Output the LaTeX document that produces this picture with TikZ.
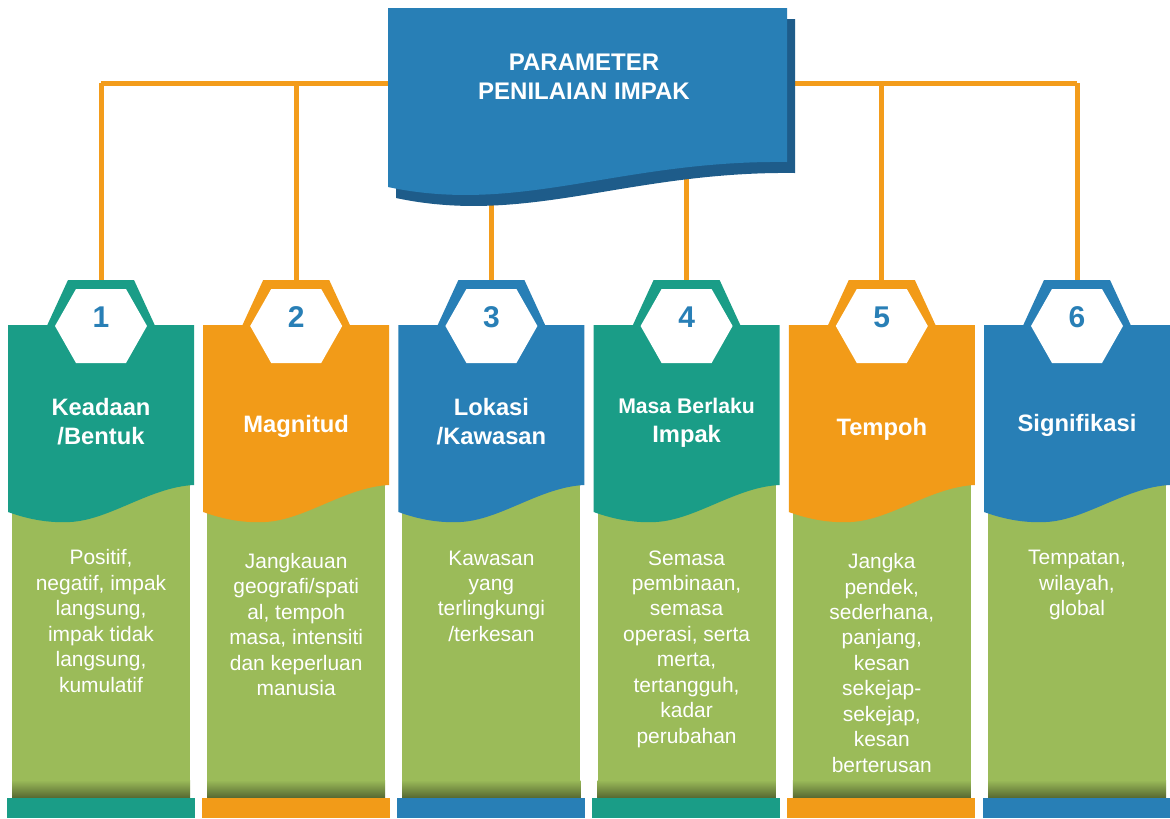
\documentclass[tikz,border=0pt]{standalone}
\usepackage{fontspec}
\setmainfont{Liberation Sans}
\definecolor{cteal}{HTML}{1A9D87}
\definecolor{corange}{HTML}{F29B18}
\definecolor{cblue}{HTML}{287FB6}
\definecolor{cgreen}{HTML}{9BBB59}
\definecolor{cshadow}{HTML}{1E5C8A}
\definecolor{cline}{HTML}{F39C1B}
\begin{document}
\begin{tikzpicture}[x=0.75pt,y=-0.75pt,
  wire/.style={cline, line width=3.75pt},
  ttl/.style={text=white, font=\fontsize{17.8}{21.75}\selectfont\bfseries, align=center, anchor=base, inner sep=0pt},
  smallttl/.style={text=white, font=\fontsize{15.9}{19}\selectfont\bfseries, anchor=base, inner sep=0pt},
  bodytxt/.style={text=white, font=\fontsize{15.7}{19.1}\selectfont, align=center, anchor=base, inner sep=0pt},
  num/.style={text=cblue, font=\fontsize{22.5}{27}\selectfont\bfseries, anchor=base, inner sep=0pt}]
\useasboundingbox (0,0) rectangle (1170,818);
\fill[white] (0,0) rectangle (1170,818);

% bus and drop connectors
\foreach \i in {1,...,6}{
  \pgfmathsetmacro\C{101+195.2*(\i-1)}
  \coordinate (bus\i) at (\C,83);
  \coordinate (top\i) at (\C,282);
}
\draw[wire] (bus1) -- (bus6);
\foreach \i in {1,...,6}{ \draw[wire] (bus\i) -- (top\i); }

% header
\fill[cshadow] (396,19) -- (795,19) -- (795,173) .. controls (628,171) and (528,226) .. (396,198) -- cycle;
\fill[cblue] (388,8) -- (787,8) -- (787,162) .. controls (620,160) and (520,215) .. (388,187) -- cycle;
\node[ttl, font=\fontsize{18}{21.75}\selectfont\bfseries] (hdrA) at (584,70) {PARAMETER};
\node[ttl, font=\fontsize{18}{21.75}\selectfont\bfseries] (hdrB) at (584,99) {PENILAIAN IMPAK};

% columns
\foreach \i/\col in {1/cteal,2/corange,3/cblue,4/cteal,5/corange,6/cblue}{
  \pgfmathsetmacro\L{8+195.2*(\i-1)}
  \pgfmathsetmacro\C{\L+93}
  % green body
  \fill[cgreen] (\L+4,470) rectangle (\L+182,798);
  \shade[top color=cgreen, bottom color=cgreen!55!black] (\L+4,780) rectangle (\L+182,798);
  % bottom bar
  \fill[\col] (\L-1.5,798) rectangle (\L+186.5,818);
  % hexagon frame
  \fill[\col] (\C-33,280) -- (\C+33,280) -- (\C+56,330) -- (\C-56,330) -- cycle;
  % top box with wavy bottom
  \fill[\col] (\L,325) -- (\L+186,325) -- (\L+186,485)
     .. controls (\L+142,487) and (\L+102,520) .. (\L+62,522)
     .. controls (\L+42,523) and (\L+22,520) .. (\L,512) -- cycle;
  % white hexagon
  \fill[white] (\C-25,289) -- (\C+25,289) -- (\C+46,326) -- (\C+25,363) -- (\C-25,363) -- (\C-46,326) -- cycle;
  \node[num] (num\i) at (\C,327) {\i};
}

% titles (multi-line nodes: base = last line's baseline)
\node[ttl] (t1) at (101,444) {Keadaan\\/Bentuk};
\node[ttl] (t2) at (296.2,432.5) {Magnitud};
\node[ttl] (t3) at (491.4,444) {Lokasi\\/Kawasan};
\node[smallttl] (t4a) at (686.6,413.3) {Masa Berlaku};
\node[ttl] (t4b) at (686.6,442.7) {Impak};
\node[ttl] (t5) at (881.8,435.7) {Tempoh};
\node[ttl] (t6) at (1077,431.7) {Signifikasi};

% body texts
\node[bodytxt] (b1) at (101,692.3) {Positif,\\negatif, impak\\langsung,\\impak tidak\\langsung,\\kumulatif};
\node[bodytxt] (b2) at (296.2,695.8) {Jangkauan\\geografi/spati\\al, tempoh\\masa, intensiti\\dan keperluan\\manusia};
\node[bodytxt] (b3) at (491.4,641.4) {Kawasan\\yang\\terlingkungi\\/terkesan};
\node[bodytxt] (b4) at (686.6,743.3) {Semasa\\pembinaan,\\semasa\\operasi, serta\\merta,\\tertangguh,\\kadar\\perubahan};
\node[bodytxt] (b5) at (881.8,772.3) {Jangka\\pendek,\\sederhana,\\panjang,\\kesan\\sekejap-\\sekejap,\\kesan\\berterusan};
\node[bodytxt] (b6) at (1077,615.9) {Tempatan,\\wilayah,\\global};
\end{tikzpicture}
\end{document}
